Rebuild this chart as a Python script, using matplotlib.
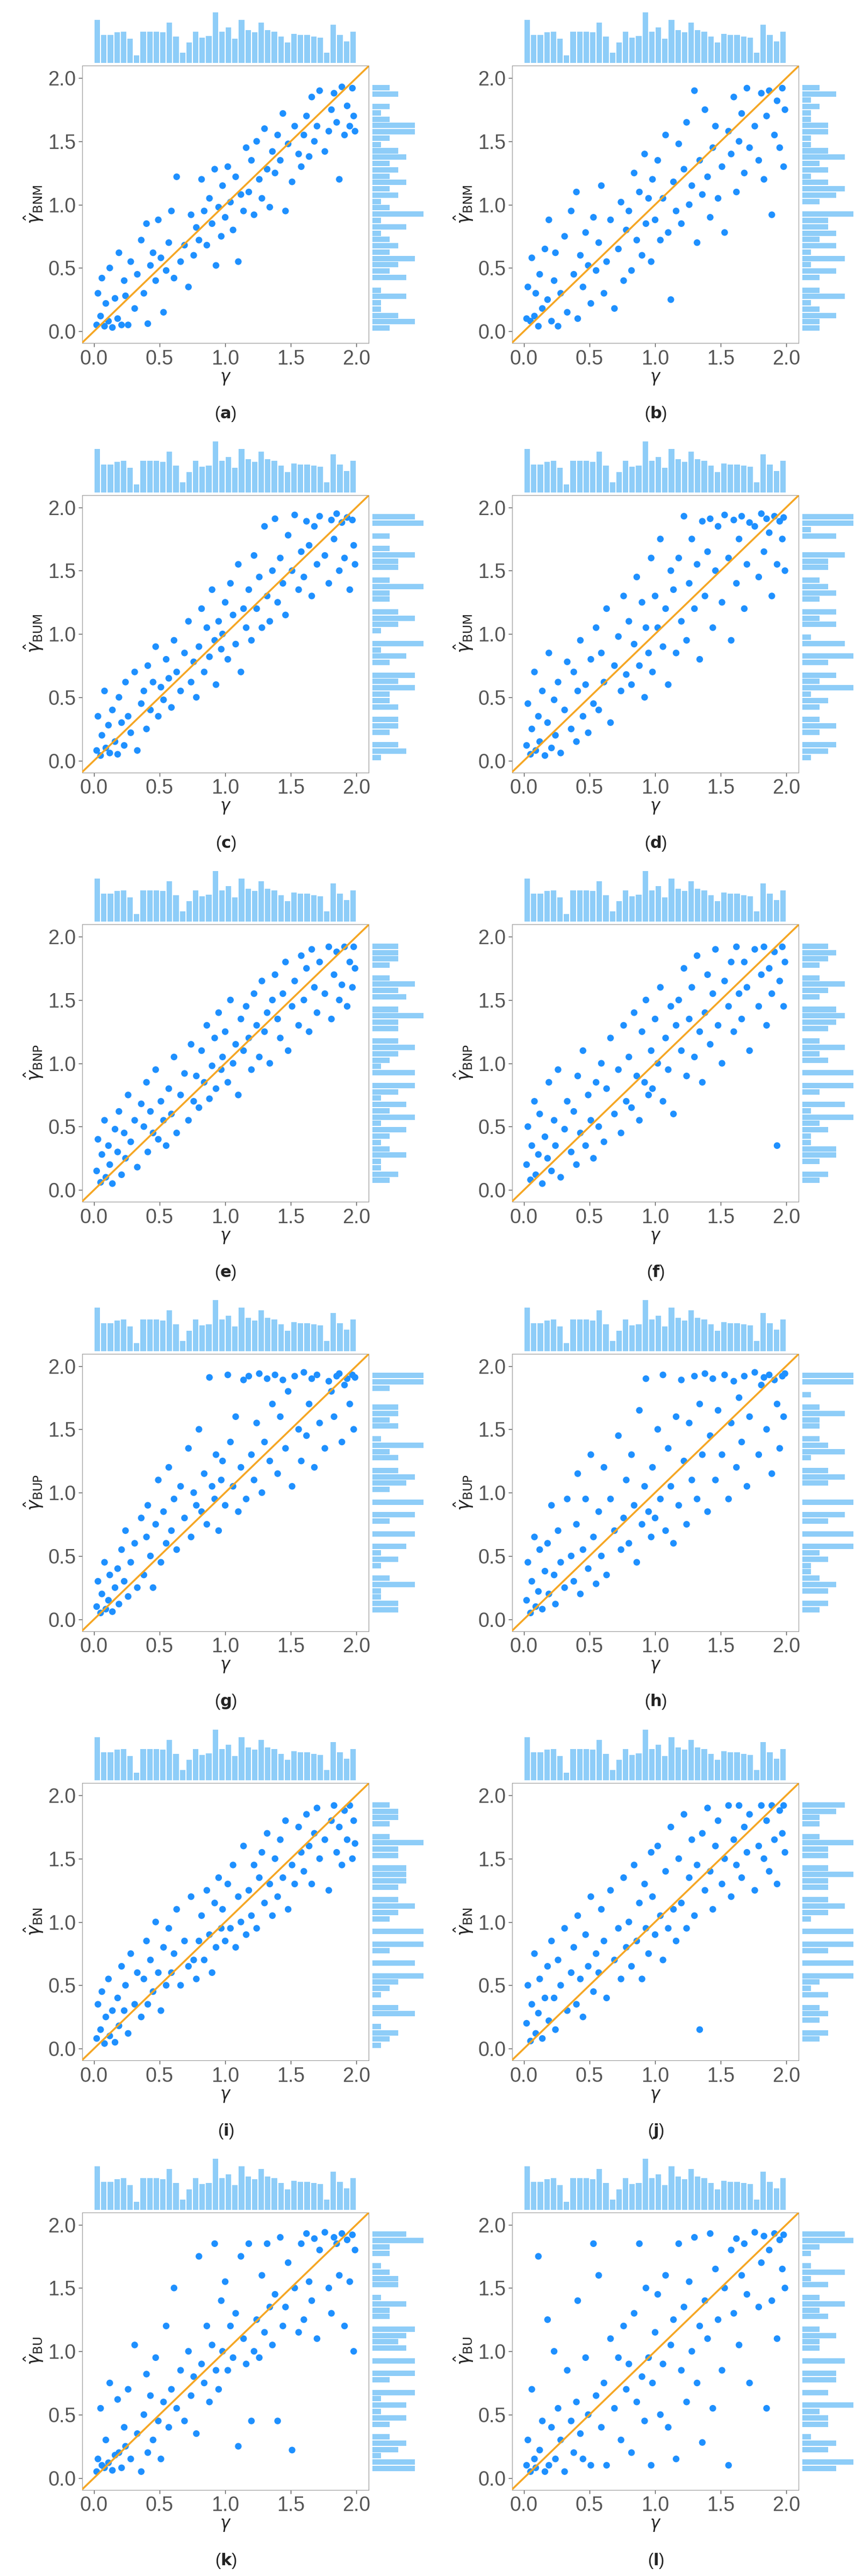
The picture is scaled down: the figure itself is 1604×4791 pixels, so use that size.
import numpy as np
import matplotlib
matplotlib.use("Agg")
import matplotlib.pyplot as plt

plt.rcParams['font.family'] = ['Liberation Sans', 'DejaVu Sans']
plt.rcParams['mathtext.fontset'] = 'dejavusans'

# true gamma values (shared by all panels)
gamma = [0.02, 0.03, 0.05, 0.06, 0.08, 0.09, 0.11, 0.12, 0.14, 0.16,
         0.18, 0.19, 0.21, 0.23, 0.24, 0.26, 0.28, 0.31, 0.33, 0.36,
         0.38, 0.40, 0.41, 0.43, 0.45, 0.47, 0.49, 0.51, 0.53, 0.55,
         0.57, 0.59, 0.61, 0.63, 0.66, 0.69, 0.72, 0.74, 0.76, 0.78,
         0.80, 0.82, 0.84, 0.86, 0.88, 0.90, 0.92, 0.93, 0.95, 0.97,
         0.98, 1.00, 1.02, 1.04, 1.06, 1.08, 1.10, 1.12, 1.14, 1.16,
         1.18, 1.20, 1.22, 1.24, 1.26, 1.28, 1.30, 1.32, 1.34, 1.36,
         1.38, 1.40, 1.42, 1.44, 1.46, 1.48, 1.51, 1.53, 1.56, 1.58,
         1.60, 1.62, 1.64, 1.66, 1.68, 1.70, 1.72, 1.76, 1.79, 1.81,
         1.83, 1.85, 1.87, 1.89, 1.91, 1.93, 1.95, 1.97, 1.98, 1.99]

# counts of the top (gamma) histogram, 40 bins of width 0.05
gamma_hist = [85, 55, 55, 60, 62, 48, 15, 62, 62, 62, 60, 80, 52, 20, 40, 62, 50, 53, 100, 62,
              70, 48, 85, 65, 60, 80, 65, 62, 52, 40, 57, 55, 55, 52, 50, 20, 75, 55, 42, 62]

est_a = [0.05, 0.30, 0.12, 0.42, 0.04, 0.22, 0.08, 0.50, 0.03, 0.26,
         0.10, 0.62, 0.05, 0.40, 0.28, 0.05, 0.55, 0.18, 0.45, 0.72,
         0.30, 0.85, 0.06, 0.52, 0.62, 0.40, 0.88, 0.58, 0.15, 0.48,
         0.70, 0.95, 0.42, 1.22, 0.55, 0.68, 0.35, 0.92, 0.60, 0.82,
         0.72, 1.20, 0.95, 0.68, 1.05, 0.85, 1.28, 0.52, 0.98, 0.75,
         1.15, 0.90, 1.30, 1.02, 0.80, 1.22, 0.55, 1.08, 0.95, 1.45,
         1.10, 1.35, 0.92, 1.50, 1.20, 1.05, 1.60, 1.28, 0.98, 1.42,
         1.25, 1.55, 1.35, 1.72, 0.95, 1.48, 1.18, 1.62, 1.40, 1.30,
         1.55, 1.70, 1.38, 1.85, 1.50, 1.62, 1.90, 1.42, 1.58, 1.75,
         1.88, 1.65, 1.20, 1.93, 1.55, 1.78, 1.62, 1.92, 1.70, 1.58]
est_b = [0.10, 0.35, 0.08, 0.58, 0.12, 0.30, 0.04, 0.45, 0.18, 0.65,
         0.25, 0.88, 0.08, 0.40, 0.62, 0.04, 0.30, 0.75, 0.15, 0.95,
         0.45, 1.10, 0.10, 0.60, 0.35, 0.78, 0.52, 0.22, 0.90, 0.48,
         0.70, 1.15, 0.30, 0.55, 0.88, 0.18, 0.65, 1.02, 0.40, 0.80,
         0.95, 0.48, 1.25, 0.72, 1.10, 0.60, 1.40, 0.85, 1.05, 0.55,
         1.20, 0.88, 1.35, 0.72, 1.05, 1.55, 0.78, 0.25, 1.18, 0.95,
         1.48, 0.85, 1.28, 1.65, 1.00, 1.15, 1.90, 0.70, 1.35, 1.08,
         1.75, 1.22, 0.90, 1.45, 1.62, 1.05, 1.30, 0.78, 1.58, 1.40,
         1.85, 1.10, 1.50, 1.72, 1.25, 1.92, 1.45, 1.62, 1.35, 1.88,
         1.20, 1.70, 1.90, 0.92, 1.55, 1.82, 1.45, 1.92, 1.30, 1.75]
est_c = [0.08, 0.35, 0.04, 0.20, 0.55, 0.10, 0.28, 0.06, 0.40, 0.15,
         0.05, 0.50, 0.30, 0.12, 0.62, 0.35, 0.22, 0.70, 0.08, 0.45,
         0.55, 0.25, 0.75, 0.40, 0.62, 0.90, 0.35, 0.58, 0.48, 0.80,
         0.65, 0.42, 0.95, 0.70, 0.55, 0.85, 1.10, 0.62, 0.78, 0.50,
         0.90, 1.20, 0.70, 1.05, 0.82, 1.35, 0.95, 0.60, 1.10, 0.88,
         1.00, 1.25, 0.80, 1.40, 1.15, 0.92, 1.55, 0.70, 1.20, 1.05,
         1.35, 0.95, 1.62, 1.20, 1.45, 1.05, 1.85, 1.30, 1.10, 1.50,
         1.91, 1.25, 1.60, 1.40, 1.15, 1.78, 1.50, 1.94, 1.35, 1.65,
         1.45, 1.89, 1.70, 1.30, 1.85, 1.55, 1.93, 1.62, 1.40, 1.90,
         1.75, 1.95, 1.50, 1.88, 1.60, 1.92, 1.35, 1.90, 1.70, 1.55]
est_d = [0.12, 0.45, 0.05, 0.25, 0.70, 0.08, 0.35, 0.15, 0.55, 0.04,
         0.30, 0.85, 0.10, 0.48, 0.20, 0.62, 0.06, 0.40, 0.78, 0.25,
         0.70, 0.15, 0.55, 0.95, 0.35, 0.60, 0.22, 0.80, 0.45, 1.05,
         0.40, 0.85, 0.62, 1.20, 0.30, 0.75, 0.98, 0.55, 1.30, 0.68,
         1.10, 0.60, 0.92, 1.45, 0.75, 1.25, 0.50, 1.05, 0.85, 1.60,
         0.70, 1.30, 1.05, 1.75, 0.90, 1.20, 0.60, 1.50, 1.35, 0.85,
         1.60, 1.10, 1.93, 0.95, 1.40, 1.75, 1.20, 1.55, 0.80, 1.89,
         1.30, 1.65, 1.91, 1.05, 1.50, 1.85, 1.25, 1.94, 1.60, 0.95,
         1.90, 1.40, 1.75, 1.93, 1.20, 1.55, 1.88, 1.85, 1.45, 1.95,
         1.65, 1.91, 1.80, 1.30, 1.93, 1.55, 1.89, 1.75, 1.92, 1.50]
est_e = [0.15, 0.40, 0.06, 0.28, 0.55, 0.10, 0.35, 0.20, 0.05, 0.48,
         0.30, 0.62, 0.12, 0.45, 0.25, 0.75, 0.38, 0.55, 0.18, 0.68,
         0.50, 0.85, 0.30, 0.62, 0.45, 0.95, 0.40, 0.70, 0.55, 0.35,
         0.80, 0.60, 1.05, 0.45, 0.75, 0.92, 0.55, 1.15, 0.70, 0.90,
         0.65, 1.10, 0.85, 1.30, 0.72, 0.98, 1.20, 0.80, 1.40, 0.95,
         1.05, 1.25, 0.85, 1.50, 1.00, 1.15, 0.75, 1.35, 1.10, 1.45,
         1.20, 0.95, 1.55, 1.30, 1.05, 1.65, 1.25, 1.40, 1.00, 1.50,
         1.70, 1.35, 1.20, 1.55, 1.80, 1.10, 1.45, 1.65, 1.30, 1.85,
         1.50, 1.75, 1.25, 1.90, 1.60, 1.40, 1.80, 1.55, 1.92, 1.35,
         1.70, 1.88, 1.50, 1.62, 1.92, 1.45, 1.80, 1.60, 1.92, 1.75]
est_f = [0.20, 0.50, 0.08, 0.35, 0.70, 0.12, 0.28, 0.60, 0.05, 0.42,
         0.25, 0.85, 0.15, 0.55, 0.35, 0.95, 0.10, 0.48, 0.70, 0.30,
         0.62, 0.20, 0.90, 0.45, 1.10, 0.35, 0.75, 0.55, 0.25, 0.85,
         0.50, 1.00, 0.38, 0.80, 1.20, 0.60, 0.95, 0.45, 1.30, 0.70,
         1.05, 0.65, 1.40, 0.90, 0.55, 1.25, 0.85, 1.50, 0.75, 1.10,
         0.80, 1.35, 1.00, 1.60, 0.70, 1.20, 0.95, 1.45, 0.60, 1.30,
         1.50, 1.10, 1.75, 0.90, 1.35, 1.60, 1.05, 1.85, 1.25, 0.85,
         1.40, 1.70, 1.15, 1.55, 1.90, 1.30, 1.00, 1.65, 1.45, 1.80,
         1.25, 1.92, 1.55, 1.35, 1.80, 1.60, 1.10, 1.90, 1.45, 1.70,
         1.92, 1.30, 1.75, 1.55, 1.88, 0.35, 1.65, 1.92, 1.45, 1.80]
est_g = [0.10, 0.30, 0.05, 0.20, 0.45, 0.08, 0.15, 0.35, 0.06, 0.25,
         0.40, 0.12, 0.55, 0.30, 0.70, 0.18, 0.45, 0.60, 0.25, 0.80,
         0.35, 0.65, 0.90, 0.50, 0.25, 0.75, 1.10, 0.45, 0.85, 0.60,
         1.20, 0.70, 0.95, 0.55, 1.05, 0.80, 1.35, 0.65, 1.00, 0.90,
         1.50, 0.85, 1.15, 0.75, 1.91, 1.05, 0.95, 1.30, 0.70, 1.10,
         1.25, 0.90, 1.93, 1.40, 1.05, 1.60, 0.85, 1.20, 1.89, 0.95,
         1.92, 1.30, 1.10, 1.55, 1.94, 1.00, 1.40, 1.90, 1.25, 1.70,
         1.93, 1.15, 1.60, 1.89, 1.35, 1.80, 1.05, 1.92, 1.50, 1.25,
         1.95, 1.45, 1.70, 1.90, 1.20, 1.93, 1.55, 1.35, 1.88, 1.80,
         1.60, 1.92, 1.94, 1.40, 1.85, 1.90, 1.70, 1.93, 1.50, 1.91]
est_h = [0.15, 0.45, 0.05, 0.30, 0.65, 0.10, 0.22, 0.55, 0.08, 0.38,
         0.60, 0.20, 0.90, 0.35, 0.12, 0.70, 0.45, 0.25, 0.95, 0.50,
         0.30, 0.75, 1.15, 0.20, 0.55, 0.95, 0.40, 1.30, 0.65, 0.28,
         0.85, 0.50, 1.20, 0.35, 0.95, 0.70, 1.45, 0.55, 0.80, 1.10,
         0.60, 1.30, 0.90, 0.45, 1.65, 0.75, 1.05, 1.90, 0.85, 0.65,
         1.20, 0.80, 1.50, 0.95, 1.93, 0.70, 1.35, 1.05, 0.60, 1.60,
         0.90, 1.89, 1.25, 0.75, 1.55, 1.10, 1.92, 0.95, 1.70, 1.30,
         1.94, 0.85, 1.45, 1.90, 1.10, 1.65, 1.30, 1.93, 0.95, 1.55,
         1.88, 1.20, 1.75, 1.40, 1.92, 1.05, 1.60, 1.95, 1.30, 1.85,
         1.91, 1.50, 1.93, 1.15, 1.89, 1.70, 1.35, 1.92, 1.60, 1.94]
est_i = [0.08, 0.35, 0.15, 0.45, 0.04, 0.25, 0.55, 0.10, 0.30, 0.05,
         0.40, 0.18, 0.65, 0.30, 0.50, 0.12, 0.75, 0.35, 0.60, 0.25,
         0.55, 0.85, 0.35, 0.70, 0.45, 1.00, 0.60, 0.30, 0.80, 0.50,
         0.95, 0.60, 0.75, 1.10, 0.50, 0.85, 0.65, 1.20, 0.70, 0.55,
         0.85, 1.05, 0.70, 1.25, 0.90, 0.60, 1.15, 0.80, 1.35, 0.95,
         1.10, 0.85, 1.30, 0.95, 1.45, 0.80, 1.20, 1.00, 1.60, 0.90,
         1.25, 1.05, 1.45, 0.95, 1.35, 1.55, 1.15, 1.70, 1.30, 1.05,
         1.50, 1.20, 1.65, 1.35, 1.80, 1.10, 1.45, 1.30, 1.75, 1.55,
         1.40, 1.85, 1.60, 1.30, 1.70, 1.90, 1.50, 1.65, 1.25, 1.80,
         1.92, 1.55, 1.75, 1.45, 1.88, 1.65, 1.92, 1.50, 1.80, 1.62]
est_j = [0.20, 0.50, 0.06, 0.35, 0.75, 0.12, 0.28, 0.55, 0.08, 0.40,
         0.65, 0.22, 0.85, 0.40, 0.15, 0.70, 0.50, 0.95, 0.30, 0.60,
         0.80, 0.35, 1.05, 0.55, 0.25, 0.90, 0.65, 1.20, 0.45, 0.75,
         0.60, 1.10, 0.85, 0.40, 1.25, 0.70, 0.95, 0.55, 1.35, 0.80,
         1.00, 0.65, 1.45, 0.85, 1.15, 0.55, 1.30, 0.95, 0.75, 1.55,
         1.20, 0.90, 1.60, 1.05, 0.70, 1.40, 0.95, 1.75, 1.10, 0.85,
         1.50, 1.15, 1.85, 0.95, 1.35, 1.65, 1.05, 1.45, 0.15, 1.70,
         1.25, 1.90, 1.40, 1.10, 1.60, 1.80, 1.30, 1.50, 1.92, 1.20,
         1.65, 1.45, 1.92, 1.35, 1.75, 1.55, 1.85, 1.25, 1.60, 1.92,
         1.50, 1.80, 1.40, 1.92, 1.65, 1.30, 1.88, 1.70, 1.92, 1.55]
est_k = [0.05, 0.15, 0.55, 0.10, 0.08, 0.30, 0.12, 0.75, 0.06, 0.18,
         0.62, 0.20, 0.08, 0.40, 0.25, 0.70, 0.15, 1.05, 0.35, 0.05,
         0.50, 0.82, 0.20, 0.65, 0.30, 0.95, 0.45, 0.15, 0.60, 1.20,
         0.40, 0.70, 1.50, 0.55, 0.85, 0.45, 1.00, 0.65, 0.80, 0.35,
         1.75, 0.90, 0.75, 1.20, 0.60, 1.05, 1.85, 0.85, 0.70, 1.40,
         1.00, 1.55, 0.85, 1.20, 0.95, 1.30, 0.25, 1.75, 1.10, 0.90,
         1.85, 0.45, 1.00, 1.25, 0.95, 1.60, 1.15, 1.85, 1.35, 1.05,
         1.45, 0.45, 1.90, 1.20, 1.35, 1.70, 0.22, 1.50, 1.15, 1.85,
         1.25, 1.93, 1.55, 1.40, 1.89, 1.10, 1.80, 1.94, 1.50, 1.30,
         1.90, 1.85, 1.60, 1.93, 1.20, 1.88, 1.55, 1.92, 1.00, 1.80]
est_l = [0.10, 0.30, 0.05, 0.70, 0.15, 0.08, 1.75, 0.22, 0.45, 0.05,
         1.25, 0.10, 0.40, 1.00, 0.15, 0.55, 0.30, 0.05, 0.85, 0.45,
         0.20, 0.60, 1.40, 0.35, 0.15, 0.95, 0.50, 0.10, 1.85, 0.65,
         1.60, 0.40, 0.75, 0.10, 1.10, 0.55, 0.95, 0.30, 1.20, 0.70,
         0.90, 0.20, 1.30, 0.60, 1.85, 0.80, 0.45, 1.50, 0.95, 0.10,
         0.75, 1.15, 1.45, 0.50, 0.90, 1.60, 0.40, 1.05, 1.25, 0.15,
         1.85, 0.85, 1.35, 0.60, 1.55, 1.00, 1.90, 0.75, 1.20, 0.28,
         1.40, 1.10, 1.93, 0.55, 1.65, 1.25, 0.85, 1.50, 0.10, 1.80,
         1.30, 1.89, 1.05, 1.60, 1.85, 1.45, 0.75, 1.94, 1.35, 1.70,
         1.91, 0.55, 1.80, 1.40, 1.93, 1.10, 1.88, 1.65, 1.92, 1.50]

estimates = [est_a, est_b, est_c, est_d, est_e, est_f, est_g, est_h, est_i, est_j, est_k, est_l]
subscripts = ['BNM', 'BNM', 'BUM', 'BUM', 'BNP', 'BNP', 'BUP', 'BUP', 'BN', 'BN', 'BU', 'BU']
captions = ['a', 'b', 'c', 'd', 'e', 'f', 'g', 'h', 'i', 'j', 'k', 'l']

W, H = 1604, 4791
fig = plt.figure(figsize=(W / 100, H / 100), dpi=100)

pt_col = '#1E90FF'
hist_col = '#8ECDF8'
line_col = '#F5A623'
grey = '#555555'
bins = np.arange(0, 2.0001, 0.05)
centers = bins[:-1] + 0.025

def box(x, y, w, h):
    return [x / W, 1 - (y + h) / H, w / W, h / H]

for k in range(12):
    r, c = k // 2, k % 2
    ox = c * 800
    oy = r * 798.5
    ax = fig.add_axes(box(ox + 153, oy + 122, 533, 516))
    ax.scatter(gamma, estimates[k], s=80, color=pt_col, edgecolors='none', zorder=2)
    ax.plot([-0.1, 2.1], [-0.1, 2.1], color=line_col, lw=2.5, zorder=3)
    ax.set_xlim(-0.09, 2.094)
    ax.set_ylim(-0.093, 2.098)
    ax.set_xticks([0, 0.5, 1.0, 1.5, 2.0])
    ax.set_yticks([0, 0.5, 1.0, 1.5, 2.0])
    ax.set_xticklabels(['0.0', '0.5', '1.0', '1.5', '2.0'])
    ax.set_yticklabels(['0.0', '0.5', '1.0', '1.5', '2.0'])
    ax.tick_params(labelsize=27, colors=grey, length=5, width=1)
    for s in ax.spines.values():
        s.set_color('#999999')
    ax.set_xlabel(r'$\gamma$', fontsize=22, color='#222222', labelpad=2)
    ax.set_ylabel(r'$\hat{\gamma}_{\mathrm{' + subscripts[k] + '}}$', fontsize=24,
                  color='#222222', labelpad=4)

    axt = fig.add_axes(box(ox + 153, oy + 18, 533, 99))
    axt.bar(centers, gamma_hist, width=0.042, color=hist_col)
    axt.set_xlim(-0.09, 2.094)
    axt.axis('off')

    axr = fig.add_axes(box(ox + 693, oy + 122, 95, 516))
    axr.hist(estimates[k], bins=bins, orientation='horizontal', color=hist_col, rwidth=0.85)
    axr.set_ylim(-0.093, 2.098)
    axr.set_xlim(0, 6)
    axr.axis('off')

    fig.text((ox + 420) / W, 1 - (oy + 770) / H,
             '(' + r'$\mathbf{' + captions[k] + '}$' + ')',
             ha='center', va='center', fontsize=22, color='#222222')

fig.savefig('out.png', dpi=100)
